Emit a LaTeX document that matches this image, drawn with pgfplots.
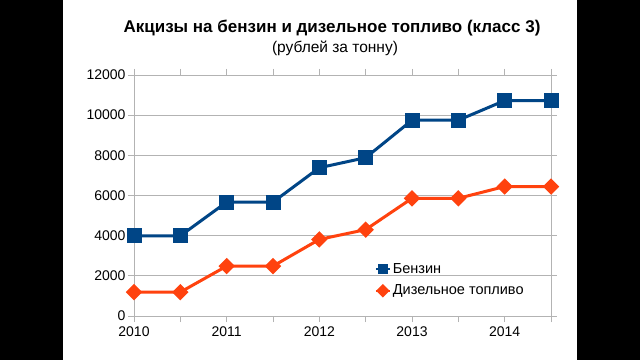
\documentclass[border=0pt]{standalone}
\usepackage{fontspec}
\setmainfont{Liberation Sans}
\usepackage{pgfplots}
\pgfplotsset{compat=1.18}
\definecolor{cblue}{HTML}{004586}
\definecolor{corange}{HTML}{FF420E}
\definecolor{cgrid}{HTML}{B3B3B3}
\begin{document}
\begin{tikzpicture}[x=1bp,y=1bp]
\fill[black] (0,0) rectangle (640,360);
\fill[white] (63,0) rectangle (577,360);
\node[font=\fontsize{17bp}{19bp}\selectfont\bfseries] at (332,332) {Акцизы на бензин и дизельное топливо (класс 3)};
\node[font=\fontsize{15.5bp}{17bp}\selectfont] at (335,312) {(рублей за тонну)};
\begin{axis}[
  at={(134bp,44bp)}, anchor=south west,
  scale only axis, width=417bp, height=241bp,
  xmin=2010, xmax=2014.5, ymin=0, ymax=12000,
  xtick={2010,2011,2012,2013,2014},
  minor xtick={2010.5,2011.5,2012.5,2013.5,2014.5},
  ytick={0,2000,4000,6000,8000,10000,12000},
  scaled y ticks=false,
  /pgf/number format/1000 sep={},
  /pgf/number format/assume math mode=true,
  tick align=outside,
  major tick length=6bp, minor tick length=6bp,
  tick style={cgrid, line width=0.8bp},
  axis line style={cgrid, line width=0.8bp},
  ymajorgrids, major grid style={cgrid, line width=0.8bp},
  xticklabel style={font=\fontsize{14bp}{16bp}\selectfont, yshift=-1bp},
  yticklabel style={font=\fontsize{14bp}{16bp}\selectfont, xshift=1bp},
  legend style={at={(0.57,0.235)}, anchor=north west, draw=none, fill=none,
    font=\fontsize{14.5bp}{16bp}\selectfont, row sep=6bp,
    /tikz/every even column/.append style={column sep=0bp}},
  legend cell align=left,
  legend image code/.code={
    \draw[line width=2bp] (0bp,0bp) -- (14bp,0bp);
    \draw[mark size=3.3bp] plot coordinates {(7bp,0bp)};
  },
]
\addplot[cblue, line width=3bp, mark=square*, mark size=6bp] coordinates {
(2010,3992) (2010.5,3992) (2011,5672) (2011.5,5672) (2012,7382) (2012.5,7882)
(2013,9750) (2013.5,9750) (2014,10725) (2014.5,10725)};
\addlegendentry{Бензин}
\addplot[corange, line width=3bp, mark=square*, mark size=4.3bp, mark options={rotate=45}] coordinates {
(2010,1188) (2010.5,1188) (2011,2485) (2011.5,2485) (2012,3814) (2012.5,4300)
(2013,5860) (2013.5,5860) (2014,6446) (2014.5,6446)};
\addlegendentry{Дизельное топливо}
\end{axis}
\end{tikzpicture}
\end{document}
